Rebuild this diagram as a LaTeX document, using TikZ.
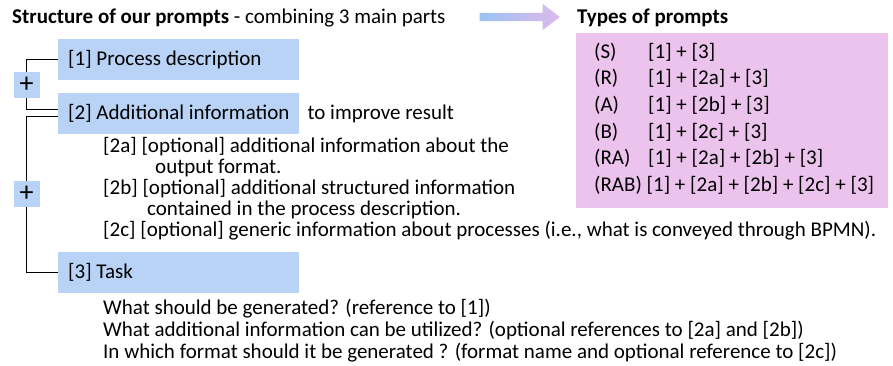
\documentclass[tikz,border=0pt]{standalone}
\usepackage{fontspec}
\setmainfont{Carlito}
\usetikzlibrary{positioning,shapes.arrows}
\definecolor{partblue}{HTML}{B8D3F6}
\definecolor{typepink}{HTML}{ECC3EC}
\definecolor{arrowblue}{HTML}{9CC2F2}
\definecolor{arrowpink}{HTML}{DDB9EC}
\newcommand{\typelabel}[1]{\makebox[54pt][l]{#1}}

\begin{document}
\begin{tikzpicture}[x=1pt,y=-1pt,
font=\fontsize{21}{22}\selectfont,
part/.style ={rectangle ,fill=partblue ,anchor=north west ,
inner xsep=10pt ,inner ysep=0pt ,minimum width=241pt ,minimum height=41pt},
plusbox/.style={rectangle ,fill=partblue ,minimum size=26pt ,inner sep=0pt ,
font=\fontsize{28}{28}\selectfont},
txt/.style={anchor=west ,inner sep=0pt},
link/.style={line width=1.4pt}
]
    \useasboundingbox (0,0) rectangle (893,366);
    % heading
    \node[txt] (title) at (12,18) {\textbf{Structure of our prompts} - combining 3 main parts};
    \node[single arrow ,left color=arrowblue ,right color=arrowpink ,inner sep=4pt ,
      minimum height=80pt ,single arrow head extend=9pt ,single arrow tip angle=75] (arr) at (517,17) {};
    \node[txt] (types) at (577,18) {\textbf{Types of prompts}};
    % the three parts
    \node[part] (p1) at (58,39) {\makebox[221pt][l]{[1] Process description}};
    \node[part] (p2) at (58,93) {\makebox[221pt][l]{[2] Additional information}};
    \node[txt] (improve) [right = 8pt of p2] {to improve result};
    \node[part] (p3) at (58,252) {\makebox[221pt][l]{[3] Task}};
    \node[plusbox] (plus1) at (26.5,85) {+};
    \node[plusbox] (plus2) at (26.5,194) {+};
    \draw[link] (p1.west) -| (plus1.north);
    \draw[link] (plus1.south) |- ([yshift=4pt]p2.west);
    \draw[link] ([yshift=-3pt]p2.west) -| (plus2.north);
    \draw[link] (plus2.south) |- (p3.west);
    % details of [2]
    \node[txt] (d2a) at (103,147) {[2a] [optional] additional information about the};
    \node[txt] (d2a2) at (155,168) {output format.};
    \node[txt] (d2b) at (103,189) {[2b] [optional] additional structured information};
    \node[txt] (d2b2) at (147,210) {contained in the process description.};
    \node[txt] (d2c) at (103,231) {[2c] [optional] generic information about processes (i.e., what is conveyed through BPMN).};
    % details of [3]
    \node[txt] (q1) at (103,309) {What should be generated? (reference to [1])};
    \node[txt] (q2) at (103,331) {What additional information can be utilized? (optional references to [2a] and [2b])};
    \node[txt] (q3) at (103,353) {In which format should it be generated ? (format name and optional reference to [2c])};
    % types of prompts
    \node[rectangle ,fill=typepink ,anchor=north west ,inner sep=0pt ,
      minimum width=312pt ,minimum height=175pt] (typebox) at (576,33) {};
    \node[txt] (tS) at (594,52) {\typelabel{(S)}[1] + [3]};
    \node[txt] (tR) at (594,78.6) {\typelabel{(R)}[1] + [2a] + [3]};
    \node[txt] (tA) at (594,105.2) {\typelabel{(A)}[1] + [2b] + [3]};
    \node[txt] (tB) at (594,131.8) {\typelabel{(B)}[1] + [2c] + [3]};
    \node[txt] (tRA) at (594,158.4) {\typelabel{(RA)}[1] + [2a] + [2b] + [3]};
    \node[txt] (tRAB) at (594,185) {(RAB) [1] + [2a] + [2b] + [2c] + [3]};
\end{tikzpicture}
\end{document}
